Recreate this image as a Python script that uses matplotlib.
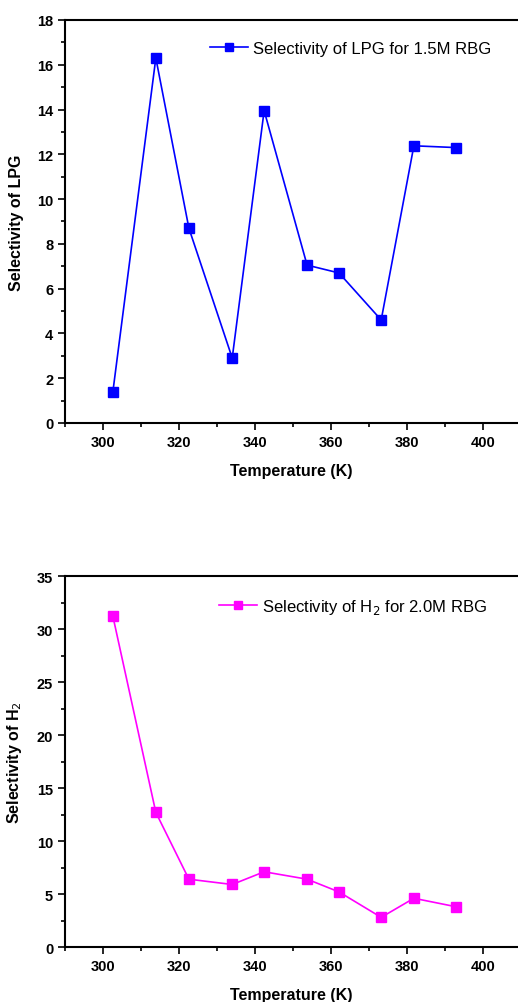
import matplotlib.pyplot as plt
from matplotlib.ticker import MultipleLocator

plt.rcParams['font.family'] = ['Liberation Sans', 'DejaVu Sans']

temp = [302.6, 313.9, 322.6, 334.0, 342.4, 353.7, 362.1, 373.2, 381.8, 392.9]
sel_lpg = [1.4, 16.3, 8.7, 2.9, 13.95, 7.05, 6.7, 4.6, 12.38, 12.3]
sel_h2 = [31.2, 12.7, 6.4, 5.9, 7.1, 6.4, 5.2, 2.8, 4.6, 3.8]

fig = plt.figure(figsize=(5.18, 10.03), dpi=100)
ax1 = fig.add_axes([0.1255, 0.5773, 0.8745, 0.4018])
ax2 = fig.add_axes([0.1255, 0.0548, 0.8745, 0.3699])


def style(ax, ymax, ymaj, ymin):
    ax.set_xlim(290, 409.2)
    ax.set_ylim(0, ymax)
    ax.xaxis.set_major_locator(MultipleLocator(20))
    ax.xaxis.set_minor_locator(MultipleLocator(10))
    ax.yaxis.set_major_locator(MultipleLocator(ymaj))
    ax.yaxis.set_minor_locator(MultipleLocator(ymin))
    ax.tick_params(which='both', direction='out', width=1.2, labelsize=10.5)
    ax.tick_params(which='major', length=5)
    ax.tick_params(which='minor', length=3)
    for lab in ax.get_xticklabels() + ax.get_yticklabels():
        lab.set_fontweight('bold')
    for s in ['left', 'bottom', 'top']:
        ax.spines[s].set_linewidth(1.5)
    ax.spines['right'].set_visible(False)
    ax.set_xlabel('Temperature (K)', fontsize=11.5, fontweight='bold', labelpad=10)


ax1.plot(temp, sel_lpg, color='#0000ff', marker='s', markersize=6.5, lw=1.2,
         label='Selectivity of LPG for 1.5M RBG')
style(ax1, 18, 2, 1)
ax1.set_ylabel('Selectivity of LPG', fontsize=11.5, fontweight='bold', labelpad=9)
ax1.legend(loc='upper right', bbox_to_anchor=(0.975, 0.985), frameon=False,
           fontsize=12, handlelength=2.3, handletextpad=0.3, markerscale=0.8)

ax2.plot(temp, sel_h2, color='#ff00ff', marker='s', markersize=6.5, lw=1.2,
         label='Selectivity of H$_2$ for 2.0M RBG')
style(ax2, 35, 5, 2.5)
ax2.set_ylabel('Selectivity of H$_2$', fontsize=11.5, fontweight='bold', labelpad=9)
ax2.legend(loc='upper right', bbox_to_anchor=(0.965, 0.985), frameon=False,
           fontsize=12, handlelength=2.3, handletextpad=0.3, markerscale=0.8)

fig.savefig('out.png', dpi=100)
